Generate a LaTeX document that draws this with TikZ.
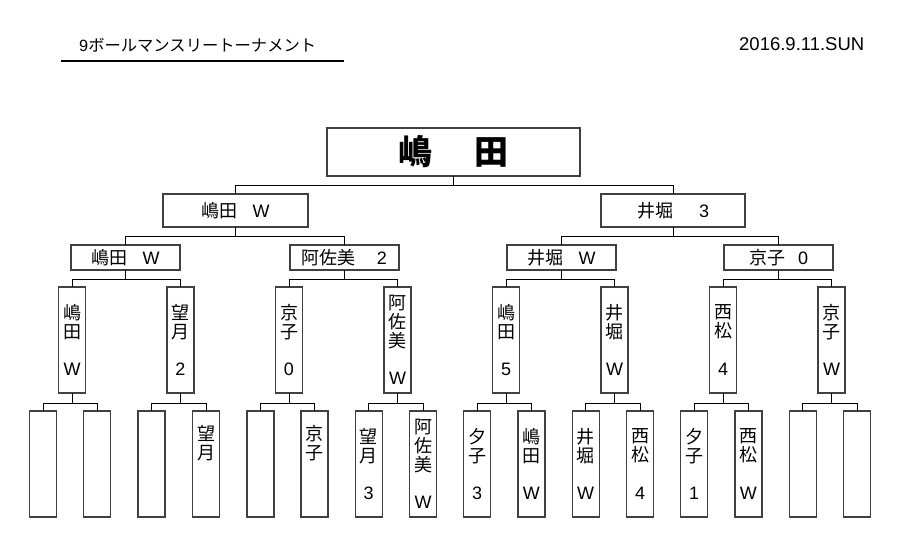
\documentclass[tikz,border=0pt]{standalone}
\usepackage{fontspec}
\setmainfont{Liberation Sans}
\newfontfamily\jp{Noto Sans CJK JP}
\definecolor{boxgray}{HTML}{404040}
\newcommand\lat[1]{{\rmfamily #1}}
\begin{document}
\begin{tikzpicture}[x=1pt,y=-1pt,
  box/.style={draw=boxgray, line width=1.2pt, fill=white, inner sep=0pt, outer sep=0pt, align=center},
  conn/.style={draw=black, line width=0.9pt},
  champ/.style={box, minimum width=253pt, minimum height=48pt, font=\jp\bfseries\fontsize{34}{36}\selectfont},
  hcellA/.style={box, minimum width=145pt, minimum height=33pt, font=\jp\fontsize{18}{20}\selectfont},
  hcellB/.style={box, minimum width=109pt, minimum height=25pt, font=\jp\fontsize{18}{20}\selectfont},
  vcell/.style={box, minimum width=27pt, minimum height=106pt, font=\jp\fontsize{18}{18.75}\selectfont},
  titletext/.style={inner sep=0pt, font=\jp\fontsize{16.3}{18}\selectfont},
  datetext/.style={inner sep=0pt, font=\rmfamily\fontsize{18.5}{20}\selectfont},
]
\useasboundingbox (0,0) rectangle (907,551);
\fill[white] (0,0) rectangle (907,551);

% header
\node[titletext, anchor=west] (title) at (79,45) {\lat{9}ボールマンスリートーナメント};
\coordinate (ulA) at (61,61);
\coordinate (ulB) at (344,61);
\draw[line width=1.5pt] (ulA) -- (ulB);
\node[datetext, anchor=east] (date) at (864.5,44.5) {2016.9.11.SUN};

% champion
\node[champ] (ch) at (453.5,152) {嶋\hspace{43pt}田};

% level 2
\node[hcellA] (a1) at (235.5,210.5) {嶋田\hspace{15pt}\lat{W}};
\node[hcellA, minimum width=144pt] (a2) at (673,210.5) {井堀\hspace{26pt}\lat{3}};

% level 3
\node[hcellB] (b1) at (125.5,257.5) {嶋田\hspace{15pt}\lat{W}};
\node[hcellB] (b2) at (344.5,257.5) {阿佐美\hspace{21pt}\lat{2}};
\node[hcellB] (b3) at (561.5,257.5) {井堀\hspace{15pt}\lat{W}};
\node[hcellB] (b4) at (778.5,257.5) {京子\hspace{13pt}\lat{0}};

% level 4
\node[vcell] (c1) at (72,340)    {嶋\\田\\\strut\\\lat{W}};
\node[vcell] (c2) at (180.5,340) {望\\月\\\strut\\\lat{2}};
\node[vcell] (c3) at (289,340)   {京\\子\\\strut\\\lat{0}};
\node[vcell] (c4) at (397.5,340) {阿\\佐\\美\\\strut\\\lat{W}};
\node[vcell] (c5) at (506,340)   {嶋\\田\\\strut\\\lat{5}};
\node[vcell] (c6) at (614.5,340) {井\\堀\\\strut\\\lat{W}};
\node[vcell] (c7) at (723,340)   {西\\松\\\strut\\\lat{4}};
\node[vcell] (c8) at (831.5,340) {京\\子\\\strut\\\lat{W}};

% level 5
\node[vcell] (d1)  at (43,464)    {};
\node[vcell] (d2)  at (97,464)    {};
\node[vcell] (d3)  at (151.4,464) {};
\node[vcell] (d4)  at (206,464)   {望\\月\\\strut\\\strut};
\node[vcell] (d5)  at (260.4,464) {};
\node[vcell] (d6)  at (314.4,464) {京\\子\\\strut\\\strut};
\node[vcell] (d7)  at (368.7,464) {望\\月\\\strut\\\lat{3}};
\node[vcell] (d8)  at (423,464)   {阿\\佐\\美\\\strut\\\lat{W}};
\node[vcell] (d9)  at (477,464)   {夕\\子\\\strut\\\lat{3}};
\node[vcell] (d10) at (531.4,464) {嶋\\田\\\strut\\\lat{W}};
\node[vcell] (d11) at (585.7,464) {井\\堀\\\strut\\\lat{W}};
\node[vcell] (d12) at (640,464)   {西\\松\\\strut\\\lat{4}};
\node[vcell] (d13) at (694,464)   {夕\\子\\\strut\\\lat{1}};
\node[vcell] (d14) at (748.4,464) {西\\松\\\strut\\\lat{W}};
\node[vcell] (d15) at (802.7,464) {};
\node[vcell] (d16) at (857,464)   {};

% connectors
\foreach \p/\c in {ch/a1, ch/a2, a1/b1, a1/b2, a2/b3, a2/b4,
                   b1/c1, b1/c2, b2/c3, b2/c4, b3/c5, b3/c6, b4/c7, b4/c8}
  \draw[conn] (\p.south) -- ++(0,9) -| (\c.north);
\foreach \p/\c in {c1/d1, c1/d2, c2/d3, c2/d4, c3/d5, c3/d6, c4/d7, c4/d8,
                   c5/d9, c5/d10, c6/d11, c6/d12, c7/d13, c7/d14, c8/d15, c8/d16}
  \draw[conn] (\p.south) -- ++(0,10) -| (\c.north);
\end{tikzpicture}
\end{document}
